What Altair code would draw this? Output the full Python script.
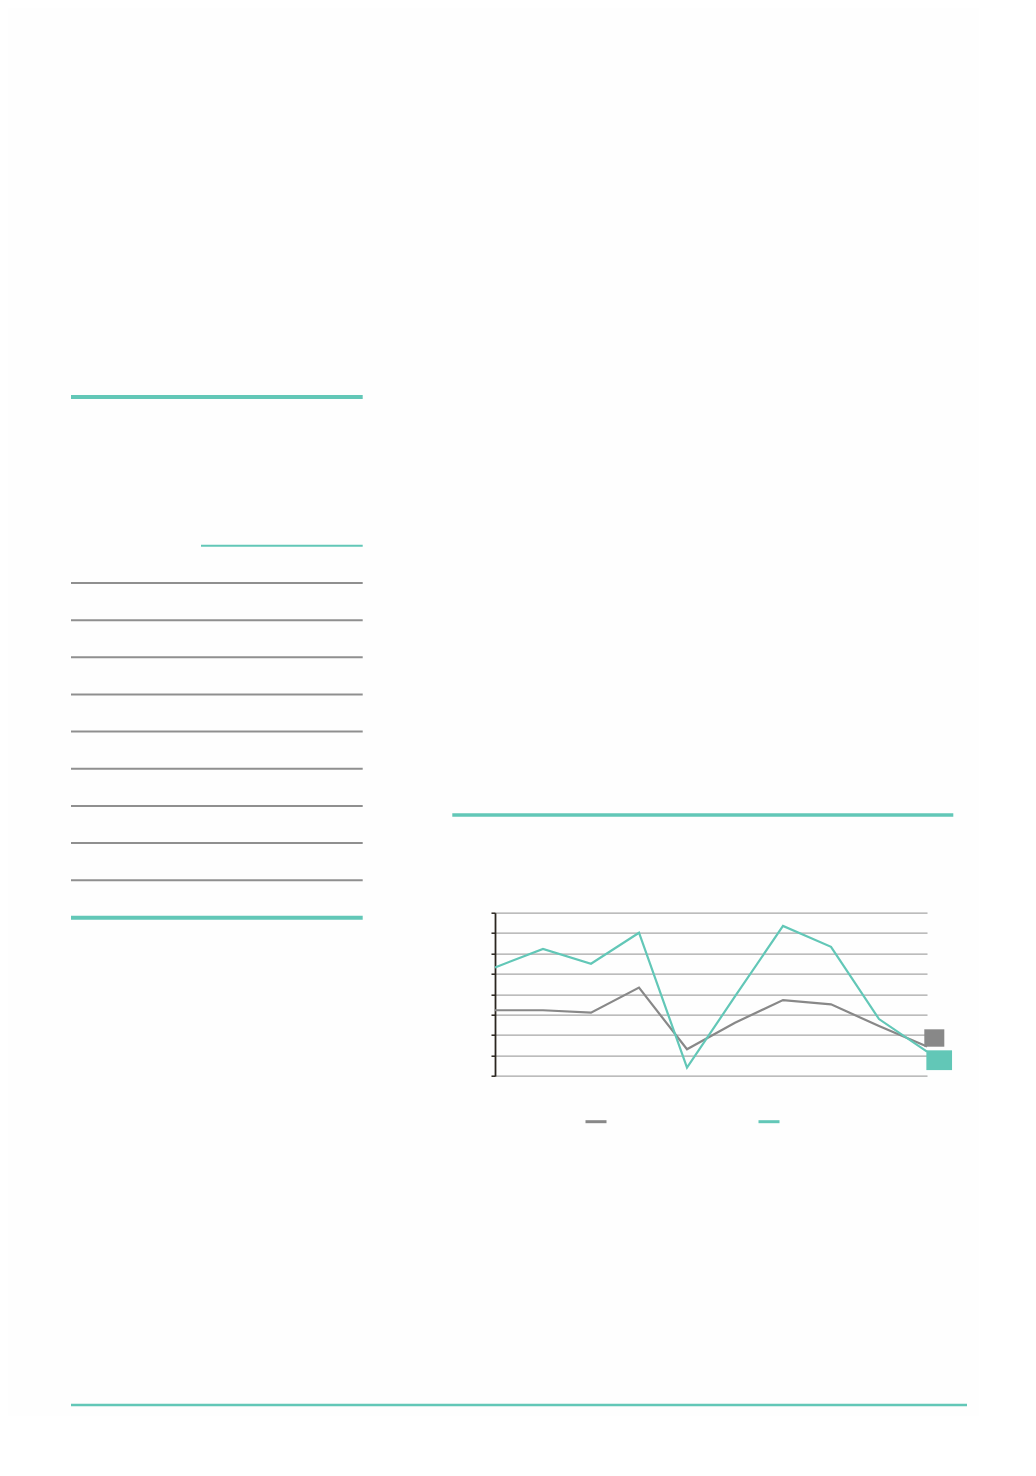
import altair as alt
import pandas as pd

# ---- data ----
periods = ["1", "2", "3", "4", "5", "6", "7", "8", "9", "10"]
series_gray = [3.22, 3.22, 3.10, 4.33, 1.31, 2.61, 3.72, 3.51, 2.45, 1.44]
series_teal = [5.32, 6.22, 5.50, 7.02, 0.41, 3.90, 7.35, 6.33, 2.79, 1.19]
series_names = ["Serie 1", "Serie 2"]
y_ticks = [0, 1, 2, 3, 4, 5, 6, 7, 8]

GRAY = "#888888"
TEAL = "#62c7b7"
RULE_GRAY = "#8f8f8f"

rows = []
for p, g, t in zip(periods, series_gray, series_teal):
    rows.append({"period": p, "series": series_names[0], "value": g})
    rows.append({"period": p, "series": series_names[1], "value": t})
df = pd.DataFrame(rows)

x_enc = alt.X("period:O", sort=periods, scale=alt.Scale(padding=0), axis=None)
y_enc = alt.Y(
    "value:Q",
    scale=alt.Scale(domain=[0, 8], nice=False, zero=True),
    axis=alt.Axis(
        values=y_ticks, labels=False, title=None, ticks=True, tickSize=4,
        tickColor="#2b2620", tickWidth=1.5, domain=True, domainColor="#2b2620",
        domainWidth=1.8, grid=True, gridColor="#a6a6a6", gridWidth=1.2,
    ),
)

base = alt.Chart(df)

lines = base.mark_line(strokeWidth=2.2).encode(
    x=x_enc,
    y=y_enc,
    color=alt.Color(
        "series:N",
        scale=alt.Scale(domain=series_names, range=[GRAY, TEAL]),
        legend=alt.Legend(
            orient="none", legendX=89, legendY=197, direction="horizontal",
            symbolType="stroke", symbolSize=441, symbolStrokeWidth=3,
            labelExpr="''", labelOffset=0, columnPadding=139, title=None,
            padding=0,
        ),
    ),
)

sq_gray = base.mark_point(
    filled=True, opacity=1, color=GRAY, size=400,
    shape="M-1,-0.87L1,-0.87L1,0.87L-1,0.87Z", xOffset=7.3, yOffset=-8.6,
).encode(x=x_enc, y=y_enc).transform_filter(
    (alt.datum.series == series_names[0]) & (alt.datum.period == periods[-1])
)

sq_teal = base.mark_point(
    filled=True, opacity=1, color=TEAL, size=660,
    shape="M-1,-0.77L1,-0.77L1,0.77L-1,0.77Z", xOffset=12.2, yOffset=8.5,
).encode(x=x_enc, y=y_enc).transform_filter(
    (alt.datum.series == series_names[1]) & (alt.datum.period == periods[-1])
)


def rule(x1, x2, y, color, width):
    return alt.Chart(alt.InlineData(values=[{"k": 1}])).mark_rule(
        color=color, strokeWidth=width
    ).encode(x=alt.value(x1), x2=alt.value(x2), y=alt.value(y))


decor = [
    rule(-424, -132.3, -515.7, TEAL, 4),
    rule(-294, -132.3, -367, TEAL, 2),
    rule(-424, -132.3, 5, TEAL, 4),
    rule(-42.7, 458.3, -97.7, TEAL, 3.5),
    rule(-424, 472, 492.3, TEAL, 2.5),
]
for i in range(9):
    decor.append(rule(-424, -132.3, -329.7 + i * 37.15, RULE_GRAY, 2))

chart = alt.layer(lines, sq_gray, sq_teal, *decor).properties(
    width=432,
    height=163.3,
    background="#fefefe",
    autosize=alt.AutoSizeParams(type="none"),
    padding={"left": 487, "top": 904.7, "right": 52, "bottom": 340},
).configure_view(stroke=None, strokeWidth=0)

chart.save("out.html", embed_options={"renderer": "svg", "actions": False})
